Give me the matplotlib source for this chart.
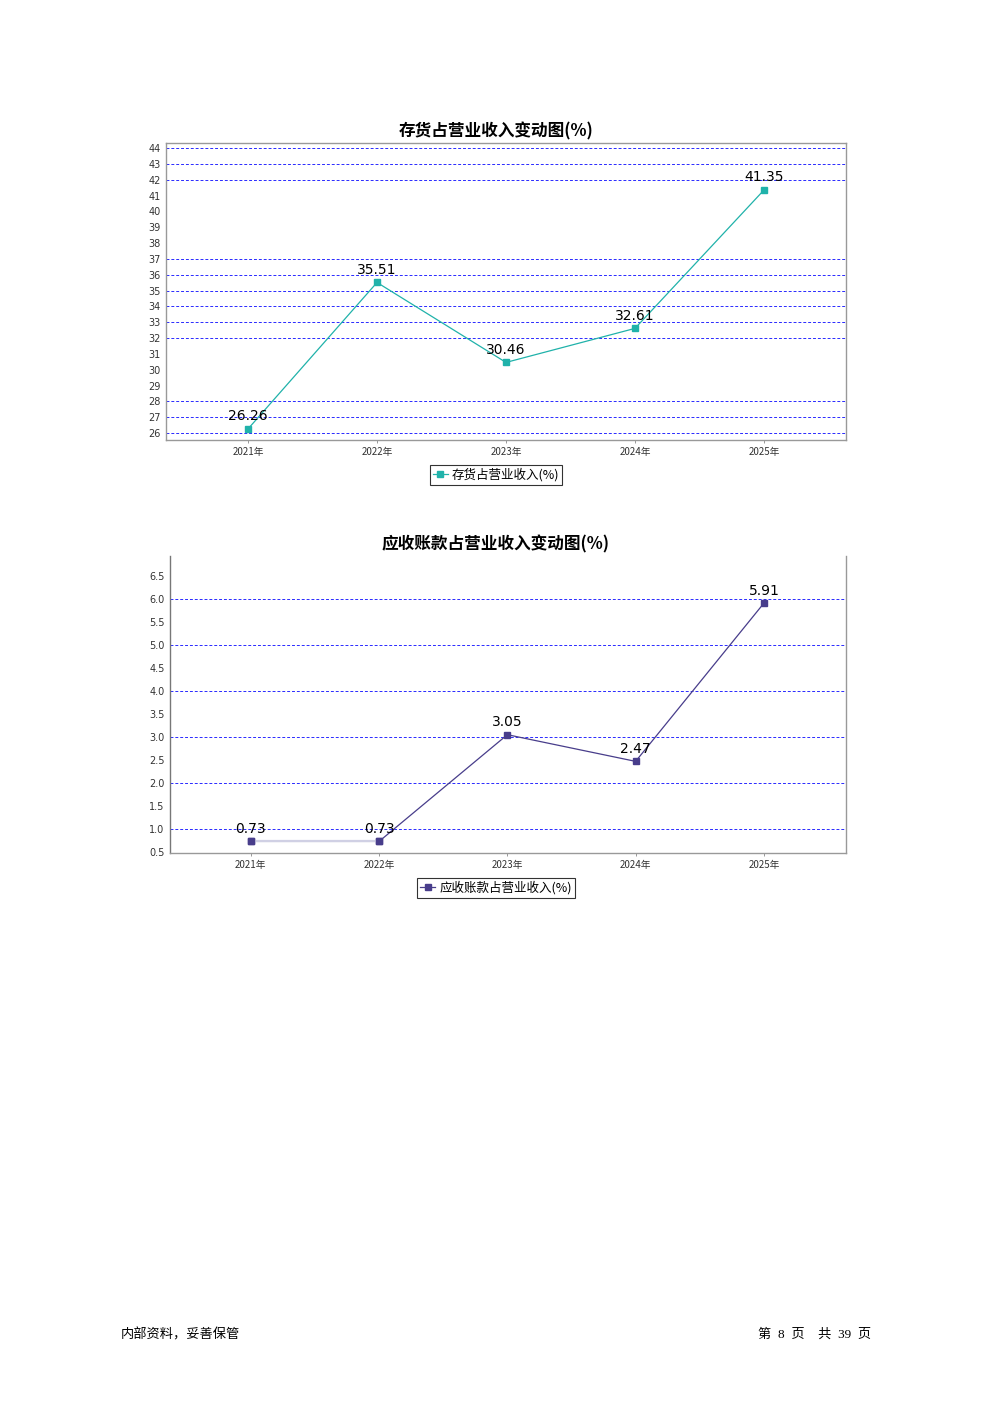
import matplotlib
matplotlib.use('Agg')
import matplotlib.pyplot as plt

plt.rcParams['font.family'] = ['Noto Sans CJK SC', 'DejaVu Sans']

# 数据
years = ['2021年', '2022年', '2023年', '2024年', '2025年']
inventory = [26.26, 35.51, 30.46, 32.61, 41.35]
receivable = [0.73, 0.73, 3.05, 2.47, 5.91]

inv_ticks = list(range(26, 45))
inv_grid = [26, 27, 28, 32, 33, 34, 35, 36, 37, 42, 43, 44]
rec_ticks = [0.5, 1.0, 1.5, 2.0, 2.5, 3.0, 3.5, 4.0, 4.5, 5.0, 5.5, 6.0, 6.5]
rec_grid = [1.0, 2.0, 3.0, 4.0, 5.0, 6.0]

fig = plt.figure(figsize=(9.92, 14.03), dpi=100)


def draw(ax, vals, color, ticks, grid, ylim, xlim, label, title, cx, seg_color=None):
    x = list(range(len(vals)))
    for g in grid:
        ax.axhline(g, color='#2a2aff', linestyle=(0, (3, 2)), linewidth=0.7, zorder=1)
    ax.plot(x, vals, color=color, linewidth=0.9, marker='s', markersize=5,
            label=label, zorder=3)
    if seg_color is not None:
        ax.plot(x[:2], vals[:2], color=seg_color, linewidth=1.6, zorder=3.5)
        ax.plot(x[:2], vals[:2], linestyle='none', marker='s', markersize=5,
                color=color, zorder=4)
    for xi, v in zip(x, vals):
        ax.annotate(f'{v:.2f}', (xi, v), xytext=(0, 4), textcoords='offset points',
                    ha='center', va='bottom', fontsize=10, family=['DejaVu Sans'])
    ax.set_xlim(*xlim)
    ax.set_ylim(*ylim)
    ax.set_xticks(x)
    ax.set_xticklabels(years, fontsize=7, color='#333333')
    ax.set_yticks(ticks)
    ax.set_yticklabels([f'{t:g}' if isinstance(t, int) else f'{t:.1f}' for t in ticks],
                       fontsize=7, color='#333333', family=['DejaVu Sans'])
    ax.tick_params(axis='y', length=0, pad=4)
    ax.tick_params(axis='x', length=2, width=0.6, color='#888888', pad=3)
    for s in ax.spines.values():
        s.set_color('#999999')
        s.set_linewidth(1.0)
    ax.set_title(title, fontsize=12, fontweight='bold', pad=5, x=cx)
    leg = ax.legend(loc='upper center', bbox_to_anchor=(cx, -0.062), fontsize=9,
                    frameon=True, fancybox=False, handlelength=1.2, handletextpad=0.3,
                    borderpad=0.25, markerscale=0.9)
    leg.get_frame().set_edgecolor('black')
    leg.get_frame().set_linewidth(0.8)


ax1 = fig.add_axes([166 / 992, 1 - 440 / 1403, 680 / 992, 297 / 1403])
draw(ax1, inventory, '#20b2aa', inv_ticks, inv_grid, (25.56, 44.32), (-0.636, 4.636),
     '存货占营业收入(%)', '存货占营业收入变动图(%)', (496 - 166) / 680)

ax2 = fig.add_axes([170 / 992, 1 - 853 / 1403, 676 / 992, 297 / 1403])
draw(ax2, receivable, '#483d8b', rec_ticks, rec_grid, (0.478, 6.935), (-0.63, 4.64),
     '应收账款占营业收入(%)', '应收账款占营业收入变动图(%)', (496 - 170) / 676,
     seg_color='#d0d0e4')
ax2.spines['top'].set_visible(False)
ax2.spines['left'].set_color('#777777')

# 页脚
fig.text(121 / 992, 1 - 1335 / 1403, '内部资料，妥善保管', fontsize=9.5, va='center', ha='left')
fig.text(871 / 992, 1 - 1335 / 1403, '第  8  页    共  39  页', fontsize=9.5, va='center',
         ha='right', family=['Liberation Serif', 'Noto Sans CJK SC'])

fig.savefig('out.png', dpi=100)
